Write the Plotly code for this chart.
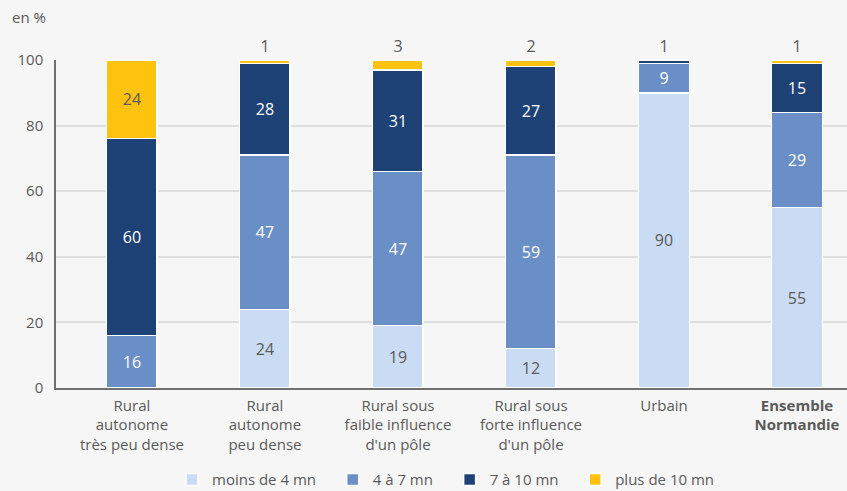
import plotly.graph_objects as go

# categories and values (en %)
categories = ["Rural<br>autonome<br>très peu dense",
              "Rural<br>autonome<br>peu dense",
              "Rural sous<br>faible influence<br>d'un pôle",
              "Rural sous<br>forte influence<br>d'un pôle",
              "Urbain",
              "<b>Ensemble<br>Normandie</b>"]
moins_4 = [None, 24, 19, 12, 90, 55]
de_4_a_7 = [16, 47, 47, 59, 9, 29]
de_7_a_10 = [60, 28, 31, 27, 1, 15]
plus_10 = [24, 1, 3, 2, None, 1]

series_names = ["moins de 4 mn", "4 à 7 mn", "7 à 10 mn", "plus de 10 mn"]
series_values = [moins_4, de_4_a_7, de_7_a_10, plus_10]

#color scheme:
light_blue = "#cadcf3"
mid_blue = "#6a8fc7"
navy = "#1f4276"
yellow = "#ffc20e"
grey_txt = "#5a5a5a"
colors = [light_blue, mid_blue, navy, yellow]
inside_txt = [grey_txt, "white", "white", grey_txt]

pad = "\u00a0" * 3  # extra room between legend entries

fig = go.Figure()
for name, vals, col, tcol in zip(series_names, series_values, colors, inside_txt):
    fig.add_trace(
        go.Bar(x=categories, y=vals, name=name + pad,
               marker=dict(color=col, line=dict(color="white", width=1.5)),
               text=[("" if v is None else str(v)) for v in vals],
               textposition=["outside" if (v is not None and v < 5) else "inside" for v in vals],
               insidetextanchor="middle",
               textangle=0,
               insidetextfont=dict(color=tcol, size=16),
               outsidetextfont=dict(color=grey_txt, size=16),
               cliponaxis=False,
               width=0.38))

fig.update_layout(
    barmode="stack",
    width=847, height=491,
    margin=dict(l=56, r=0, t=60, b=103, autoexpand=False),
    paper_bgcolor="#f6f6f6",
    plot_bgcolor="#f6f6f6",
    font=dict(family="Open Sans", size=14, color=grey_txt),
    legend=dict(orientation="h", x=0.5, xanchor="center", y=-0.28, yanchor="middle",
                font=dict(size=15, color=grey_txt), itemwidth=30,
                traceorder="normal"),
    annotations=[dict(text="en %", xref="paper", yref="paper", x=-0.058, y=1.13,
                      xanchor="left", yanchor="middle", showarrow=False,
                      font=dict(size=15, color=grey_txt))],
)
fig.update_xaxes(range=[-0.571, 5.376], showline=True, linecolor="#707070",
                 linewidth=1.5, ticks="", ticklabelstandoff=3, automargin=False,
                 tickfont=dict(size=15, color=grey_txt))
fig.update_yaxes(range=[0, 100], dtick=20, showgrid=True, gridcolor="#dedede",
                 gridwidth=1.5, zeroline=False, showline=True, linecolor="#707070",
                 linewidth=1.5, tickfont=dict(size=15, color=grey_txt), ticklen=8,
                 ticks="outside", tickcolor="rgba(0,0,0,0)", automargin=False)

fig.write_html("out.html", config={"displayModeBar": False},
               post_script="document.body.style.margin='0';")
